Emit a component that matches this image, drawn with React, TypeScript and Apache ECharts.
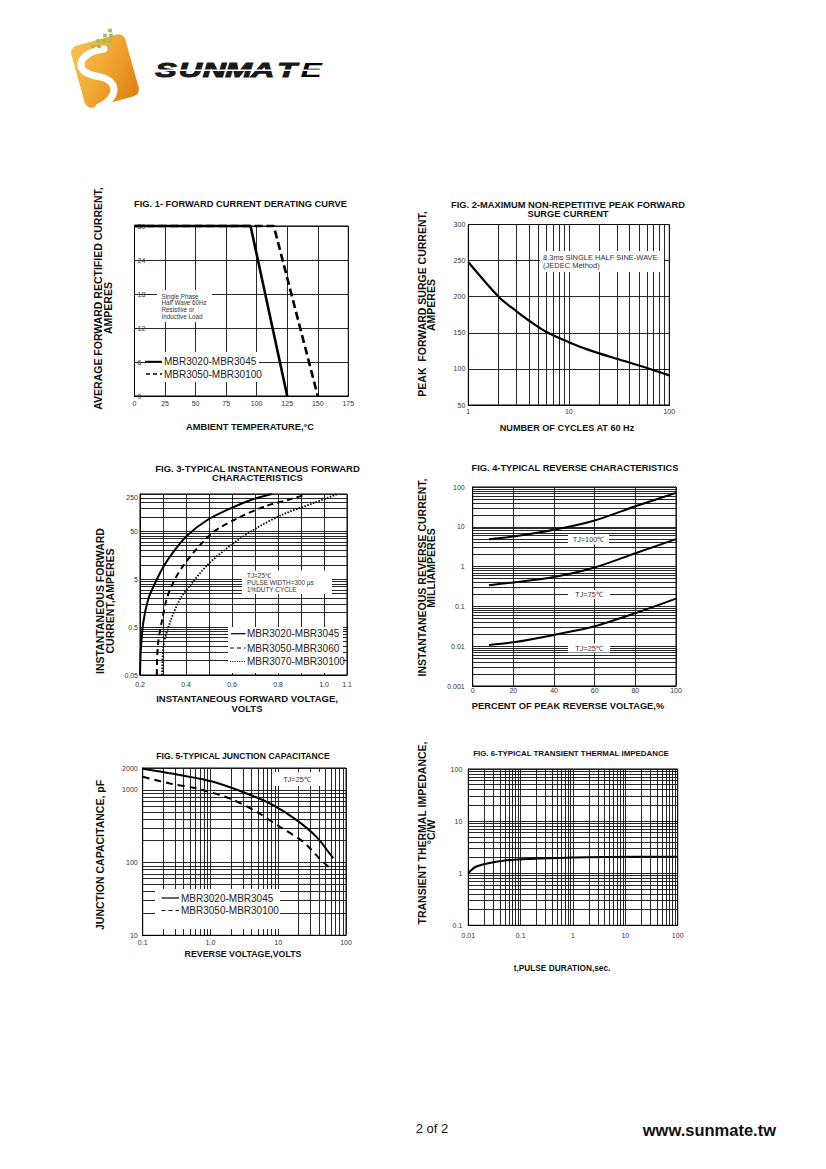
import React, { useEffect, useRef } from "react";
import * as echarts from "echarts";

const FONT = "'Liberation Sans', Arial, Helvetica, sans-serif";

// ---------- FIG 1 data ----------
const fig1SolidTemp = [0, 95, 125];
const fig1SolidAmps = [30, 30, 0];
const fig1DashTemp = [0, 114, 150];
const fig1DashAmps = [30, 30, 0];

// ---------- FIG 2 data ----------
const fig2Cycles = [1, 2, 3, 4, 6, 10, 16, 30, 55, 100];
const fig2Amps = [248, 200, 180, 167, 151, 137, 126, 114, 103, 91];
const fig2XLabels = [1, 10, 100];

// ---------- FIG 3 data ----------
const fig3SolidV = [0.2, 0.204, 0.215, 0.237, 0.266, 0.3, 0.345, 0.403, 0.491, 0.597, 0.685, 0.773];
const fig3SolidI = [0.05, 0.18, 0.66, 2.0, 4.2, 8.8, 18.5, 40, 85, 153, 228, 300];
const fig3DashV = [0.273, 0.278, 0.295, 0.317, 0.347, 0.391, 0.45, 0.523, 0.627, 0.743, 0.846, 0.92];
const fig3DashI = [0.05, 0.215, 0.66, 2.0, 4.5, 10, 22.5, 50, 95, 166, 228, 290];
const fig3DotV = [0.296, 0.303, 0.332, 0.376, 0.42, 0.494, 0.597, 0.7, 0.817, 0.949, 1.06];
const fig3DotI = [0.05, 0.215, 0.66, 2.0, 3.8, 10, 26, 56, 110, 190, 300];
const fig3XTicks = [0.2, 0.3, 0.4, 0.5, 0.6, 0.7, 0.8, 0.9, 1.0, 1.1];
const fig3XLabels = [0.2, 0.4, 0.6, 0.8, 1.0, 1.1];
const fig3YLabels = [0.05, 0.5, 5, 50, 250];
const fig3YTop = [100, 150, 200, 250, 300];

// ---------- FIG 4 data ----------
const fig4Pct = [8, 20, 40, 60, 80, 100];
const fig4I100 = [4.9, 5.7, 8.4, 14.4, 32.7, 71];
const fig4I75 = [0.34, 0.4, 0.55, 0.95, 2.16, 4.9];
const fig4I25 = [0.0107, 0.0125, 0.0192, 0.0316, 0.0676, 0.157];
const fig4YLabels = [0.001, 0.01, 0.1, 1, 10, 100];

// ---------- FIG 5 data ----------
const fig5SolidV = [0.1, 0.355, 1.1, 3.42, 8.4, 18.7, 36.7, 57.5, 65];
const fig5SolidC = [1950, 1600, 1294, 892, 617, 384, 226, 133, 115];
const fig5DashV = [0.1, 0.253, 0.625, 1.94, 4.8, 10.6, 23.4, 41, 60];
const fig5DashC = [1514, 1225, 1043, 760, 499, 310, 193, 113, 82];
const fig5XLabels = [0.1, 1, 10, 100];
const fig5YLabels = [10, 100, 1000, 2000];

// ---------- FIG 6 data ----------
const fig6T = [0.01, 0.0134, 0.0241, 0.0502, 0.105, 0.337, 0.944, 4.08, 100];
const fig6Z = [1.0, 1.3, 1.55, 1.75, 1.85, 1.93, 2.0, 2.05, 2.08];
const fig6XLabels = [0.01, 0.1, 1, 10, 100];
const fig6YLabels = [0.1, 1, 10, 100];

function decadeLines(start: number, decades: number): number[] {
  const out: number[] = [];
  for (let d = 0; d < decades; d++) {
    const base = start * Math.pow(10, d);
    for (let k = 1; k < 10; k++) out.push(+(base * k).toPrecision(6));
  }
  out.push(+(start * Math.pow(10, decades)).toPrecision(6));
  return out;
}

const plain = (v: number) => String(+(+v).toPrecision(6));

const GRIDS = [
  { left: 134.5, top: 226, width: 213.8, height: 170 },
  { left: 468.3, top: 224.5, width: 201, height: 180.5 },
  { left: 140, top: 494, width: 207, height: 181 },
  { left: 472.7, top: 487, width: 203.3, height: 199 },
  { left: 142.7, top: 768, width: 203.3, height: 167.3 },
  { left: 468.3, top: 769, width: 209.4, height: 156.3 },
];

type AxCfg = {
  type: "value" | "log";
  min: number;
  max: number;
  interval?: number;
  ticks?: number[];
  labels?: number[];
  fmt?: (v: number) => string;
  margin: number;
  inside?: boolean;
};

function mkAxis(grid: number, c: AxCfg) {
  const a: any = {
    type: c.type,
    gridIndex: grid,
    min: c.min,
    max: c.max,
    axisLine: { show: true, lineStyle: { color: "#000", width: 1 } },
    axisTick: { show: false },
    splitLine: { show: true, lineStyle: { color: "#111", width: 0.9 } },
    axisLabel: {
      show: true,
      color: "#333",
      fontSize: 7,
      fontFamily: FONT,
      margin: c.margin,
      inside: !!c.inside,
      showMinLabel: true,
      showMaxLabel: true,
      formatter: c.fmt || plain,
    },
  };
  if (c.type === "log") a.logBase = 10;
  if (c.interval) a.interval = c.interval;
  if (c.ticks) a.axisTick.customValues = c.ticks;
  if (c.labels) a.axisLabel.customValues = c.labels;
  return a;
}

function mkLine(idx: number, xs: number[], ys: number[], width: number, type: any, smooth = true) {
  return {
    type: "line",
    xAxisIndex: idx,
    yAxisIndex: idx,
    data: xs.map((x, i) => [x, ys[i]]),
    showSymbol: false,
    symbol: "none",
    smooth: smooth ? 0.3 : false,
    silent: true,
    clip: smooth,
    z: 5,
    lineStyle: { color: "#000", width, type },
  };
}

function txt(x: number, y: number, text: string, size: number, o: any = {}) {
  const align = o.align || "center";
  return {
    type: "text",
    x,
    y,
    z: 100,
    rotation: o.rot || 0,
    style: {
      text,
      font: `${o.bold ? "bold " : ""}${size}px ${FONT}`,
      fill: o.color || "#111",
      align,
      textAlign: align,
      verticalAlign: "middle",
      textVerticalAlign: "middle",
    },
  };
}
const box = (x: number, y: number, w: number, h: number) => ({
  type: "rect",
  z: 90,
  shape: { x, y, width: w, height: h },
  style: { fill: "#fff" },
});
const seg = (x1: number, y1: number, x2: number, y2: number, w: number, dash?: number[]) => ({
  type: "line",
  z: 95,
  shape: { x1, y1, x2, y2 },
  style: { stroke: "#000", lineWidth: w, lineDash: dash },
});

const ROT = Math.PI / 2;

function buildOption() {
  const xAxis = [
    mkAxis(0, { type: "value", min: 0, max: 175, interval: 25, margin: 4 }),
    mkAxis(1, { type: "log", min: 1, max: 100, ticks: decadeLines(1, 2), labels: fig2XLabels, margin: 2.5 }),
    mkAxis(2, { type: "value", min: 0.2, max: 1.1, ticks: fig3XTicks, labels: fig3XLabels, fmt: (v) => (+v).toFixed(1), margin: 6 }),
    mkAxis(3, { type: "value", min: 0, max: 100, interval: 20, margin: 1 }),
    mkAxis(4, { type: "log", min: 0.1, max: 100, ticks: decadeLines(0.1, 3), labels: fig5XLabels, fmt: (v) => (Math.abs(v - 1) < 1e-9 ? "1.0" : plain(v)), margin: 3.5 }),
    mkAxis(5, { type: "log", min: 0.01, max: 100, ticks: decadeLines(0.01, 4), labels: fig6XLabels, margin: 6.5 }),
  ];
  const yAxis = [
    mkAxis(0, { type: "value", min: 0, max: 30, interval: 6, margin: 3, inside: true }),
    mkAxis(1, { type: "value", min: 50, max: 300, interval: 50, margin: 3 }),
    mkAxis(2, { type: "log", min: 0.05, max: 300, ticks: decadeLines(0.05, 3).concat(fig3YTop), labels: fig3YLabels, margin: 2 }),
    mkAxis(3, { type: "log", min: 0.001, max: 100, ticks: decadeLines(0.001, 5), labels: fig4YLabels, margin: 8 }),
    mkAxis(4, { type: "log", min: 10, max: 2000, ticks: decadeLines(10, 2).concat([2000]), labels: fig5YLabels, margin: 5 }),
    mkAxis(5, { type: "log", min: 0.1, max: 100, ticks: decadeLines(0.1, 3), labels: fig6YLabels, margin: 6 }),
  ];

  const series = [
    mkLine(0, fig1SolidTemp, fig1SolidAmps, 2.6, "solid", false),
    mkLine(0, fig1DashTemp, fig1DashAmps, 2.6, [8, 4], false),
    mkLine(1, fig2Cycles, fig2Amps, 2.2, "solid"),
    mkLine(2, fig3SolidV, fig3SolidI, 2, "solid"),
    mkLine(2, fig3DashV, fig3DashI, 2, [6, 4]),
    mkLine(2, fig3DotV, fig3DotI, 1.8, [1.5, 1.5]),
    mkLine(3, fig4Pct, fig4I100, 2, "solid"),
    mkLine(3, fig4Pct, fig4I75, 2, "solid"),
    mkLine(3, fig4Pct, fig4I25, 2, "solid"),
    mkLine(4, fig5SolidV, fig5SolidC, 2, "solid"),
    mkLine(4, fig5DashV, fig5DashC, 2, [7, 5]),
    mkLine(5, fig6T, fig6Z, 2, "solid"),
  ];

  const orangeGrad = new echarts.graphic.LinearGradient(0, 0, 1, 1, [
    { offset: 0, color: "#f8c453" },
    { offset: 0.5, color: "#f0a531" },
    { offset: 1, color: "#e07b12" },
  ]);
  const eGrad = new echarts.graphic.LinearGradient(0, 0, 0, 1, [
    { offset: 0, color: "#1a1a1a" },
    { offset: 0.55, color: "#1a1a1a" },
    { offset: 0.56, color: "#e8872a" },
    { offset: 1, color: "#e8872a" },
  ]);
  const letters = ["S", "U", "N", "M", "A", "T", "E"];
  const letterEls = letters.map((ch, i) => ({
    type: "text",
    x: 166 + i * 24.2,
    y: 70.5,
    z: 100,
    scaleX: 1.6,
    style: {
      text: ch,
      font: `italic bold 20px ${FONT}`,
      fill: ch === "E" ? eGrad : "#1a1a1a",
      stroke: ch === "E" ? null : "#1a1a1a",
      lineWidth: 1,
      align: "center",
      textAlign: "center",
      verticalAlign: "middle",
      textVerticalAlign: "middle",
    },
  }));
  const dots = [
    [110, 30.5],
    [105, 35.5], [111, 35.5],
    [98, 41], [104, 41], [110, 41],
    [93, 46.5], [99, 46.5],
  ].map(([x, y]) => ({ type: "rect", z: 100, shape: { x: x - 1.8, y: y - 1.8, width: 3.6, height: 3.6 }, style: { fill: "#9cbd5c" } }));

  const logo = [
    {
      type: "rect",
      x: 105,
      y: 71,
      z: 98,
      rotation: 0.27,
      shape: { x: -28, y: -32, width: 56, height: 64, r: 7 },
      style: { fill: orangeGrad },
    },
    {
      type: "bezierCurve",
      z: 99,
      shape: { x1: 104, y1: 49, cpx1: 78, cpy1: 52, cpx2: 72, cpy2: 72, x2: 96, y2: 76 },
      style: { stroke: "#ffffff", lineWidth: 7, lineCap: "round", fill: null },
    },
    {
      type: "bezierCurve",
      z: 99,
      shape: { x1: 96, y1: 76, cpx1: 121, cpy1: 80, cpx2: 118, cpy2: 98, x2: 99, y2: 107 },
      style: { stroke: "#ffffff", lineWidth: 7, lineCap: "round", fill: null },
    },
    ...dots,
    ...letterEls,
    { type: "rect", z: 101, shape: { x: 150, y: 69.6, width: 180, height: 1.3 }, style: { fill: "#fff" } },
  ];

  const T = 9.3;
  const graphic: any[] = [
    ...logo,
    // FIG 1
    txt(240.5, 204, "FIG. 1- FORWARD CURRENT DERATING CURVE", T, { bold: true }),
    txt(98, 298.5, "AVERAGE FORWARD RECTIFIED CURRENT,", 10.5, { bold: true, rot: ROT }),
    txt(107.5, 308, "AMPERES", 10.5, { bold: true, rot: ROT }),
    txt(250, 427, "AMBIENT TEMPERATURE,°C", T, { bold: true }),
    box(157, 290, 55, 32),
    txt(161.5, 296, "Single Phase", 6.3, { align: "left", color: "#333" }),
    txt(161.5, 302.7, "Half Wave 60Hz", 6.3, { align: "left", color: "#333" }),
    txt(161.5, 309.4, "Resistive or", 6.3, { align: "left", color: "#333" }),
    txt(161.5, 316.1, "Inductive Load", 6.3, { align: "left", color: "#333" }),
    box(162, 352, 97, 30),
    seg(145, 361.5, 162, 361.5, 1.4),
    txt(164, 361.5, "MBR3020-MBR3045", 10, { align: "left", color: "#222" }),
    seg(146, 374, 162, 374, 1.4, [4, 3]),
    txt(164, 374, "MBR3050-MBR30100", 10, { align: "left", color: "#222" }),
    // FIG 2
    txt(568, 205, "FIG. 2-MAXIMUM NON-REPETITIVE PEAK FORWARD", T, { bold: true }),
    txt(568, 214, "SURGE CURRENT", T, { bold: true }),
    txt(422, 304, "PEAK  FORWARD SURGE CURRENT,", 10.5, { bold: true, rot: ROT }),
    txt(431, 305, "AMPERES", 10.5, { bold: true, rot: ROT }),
    txt(567, 428, "NUMBER OF CYCLES AT 60 Hz", 9.1, { bold: true }),
    box(540, 251, 124, 21),
    txt(543, 257.3, "8.3ms SINGLE HALF SINE-WAVE", 7.5, { align: "left", color: "#333" }),
    txt(543, 265.8, "(JEDEC Method)", 7.5, { align: "left", color: "#333" }),
    // FIG 3
    txt(257.5, 468, "FIG. 3-TYPICAL INSTANTANEOUS FORWARD", 9.5, { bold: true }),
    txt(257.5, 477.5, "CHARACTERISTICS", 9.5, { bold: true }),
    txt(100, 601, "INSTANTANEOUS FORWARD", 10.5, { bold: true, rot: ROT }),
    txt(109.5, 601, "CURRENT,AMPERES", 10.5, { bold: true, rot: ROT }),
    txt(247, 698, "INSTANTANEOUS FORWARD VOLTAGE,", 9.5, { bold: true }),
    txt(247, 708, "VOLTS", 9.5, { bold: true }),
    box(242, 570.5, 90, 23.5),
    txt(247, 575.3, "TJ=25℃", 6.4, { align: "left", color: "#333" }),
    txt(247, 582.2, "PULSE WIDTH=300 μs", 6.4, { align: "left", color: "#333" }),
    txt(247, 589.1, "1%DUTY CYCLE", 6.4, { align: "left", color: "#333" }),
    box(228, 627, 115, 46),
    seg(231, 633.7, 245.5, 633.7, 1.2),
    txt(247, 633.7, "MBR3020-MBR3045", 10, { align: "left", color: "#222" }),
    seg(230, 648, 245.5, 648, 1.2, [4, 3]),
    txt(247, 648, "MBR3050-MBR3060", 10, { align: "left", color: "#222" }),
    seg(230, 661.5, 245.5, 661.5, 1.2, [1, 1.3]),
    txt(247, 661.5, "MBR3070-MBR30100", 10, { align: "left", color: "#222" }),
    // FIG 4
    txt(575, 468, "FIG. 4-TYPICAL REVERSE CHARACTERISTICS", T, { bold: true }),
    txt(422, 577.5, "INSTANTANEOUS REVERSE CURRENT,", 10.5, { bold: true, rot: ROT }),
    txt(431, 568, "MILLIAMPERES", 10.5, { bold: true, rot: ROT }),
    txt(568, 706, "PERCENT OF PEAK REVERSE VOLTAGE,%", T, { bold: true }),
    box(568, 535, 41, 9.5),
    txt(588.5, 539.8, "TJ=100℃", 7.3, { color: "#333" }),
    box(568, 590, 42, 9),
    txt(589, 594.5, "TJ=75℃", 7.3, { color: "#333" }),
    box(568, 643.5, 42, 9),
    txt(589, 648, "TJ=25℃", 7.3, { color: "#333" }),
    // FIG 5
    txt(243, 756, "FIG. 5-TYPICAL JUNCTION CAPACITANCE", 8.6, { bold: true }),
    txt(100, 855, "JUNCTION CAPACITANCE, pF", 10.5, { bold: true, rot: ROT }),
    txt(243, 954, "REVERSE VOLTAGE,VOLTS", 8.8, { bold: true }),
    box(273, 772, 47, 14),
    txt(297, 779.5, "TJ=25℃", 7.3, { color: "#333" }),
    box(155, 889, 125, 40),
    seg(161.5, 898, 179, 898, 1.2),
    txt(181, 898, "MBR3020-MBR3045", 10, { align: "left", color: "#222" }),
    seg(161.5, 910.5, 179, 910.5, 1.2, [4, 3]),
    txt(181, 910.5, "MBR3050-MBR30100", 10, { align: "left", color: "#222" }),
    // FIG 6
    txt(571, 753, "FIG. 6-TYPICAL TRANSIENT THERMAL IMPEDANCE", 7.9, { bold: true }),
    txt(422, 833, "TRANSIENT THERMAL IMPEDANCE,", 10.5, { bold: true, rot: ROT }),
    txt(431, 832, "°C/W", 10.5, { bold: true, rot: ROT }),
    txt(562, 968, "t,PULSE DURATION,sec.", 8.3, { bold: true }),
    // footer
    txt(432, 1128, "2 of 2", 13, { color: "#111" }),
    txt(776, 1130, "www.sunmate.tw", 16.5, { bold: true, align: "right", color: "#111" }),
  ];

  return {
    animation: false,
    backgroundColor: "#ffffff",
    textStyle: { fontFamily: FONT },
    grid: GRIDS.map((g) => ({ ...g, show: true, borderColor: "#000", borderWidth: 1, backgroundColor: "transparent", containLabel: false })),
    xAxis,
    yAxis,
    series,
    graphic: { elements: graphic },
  };
}

export default function App() {
  const ref = useRef<HTMLDivElement>(null);
  useEffect(() => {
    if (!ref.current) return;
    const chart = echarts.init(ref.current, null, { renderer: "svg", width: 826, height: 1169 });
    chart.setOption(buildOption() as any);
    return () => chart.dispose();
  }, []);
  return (
    <div
      ref={ref}
      style={{ position: "absolute", left: 0, top: 0, width: 826, height: 1169, background: "#fff" }}
    />
  );
}
